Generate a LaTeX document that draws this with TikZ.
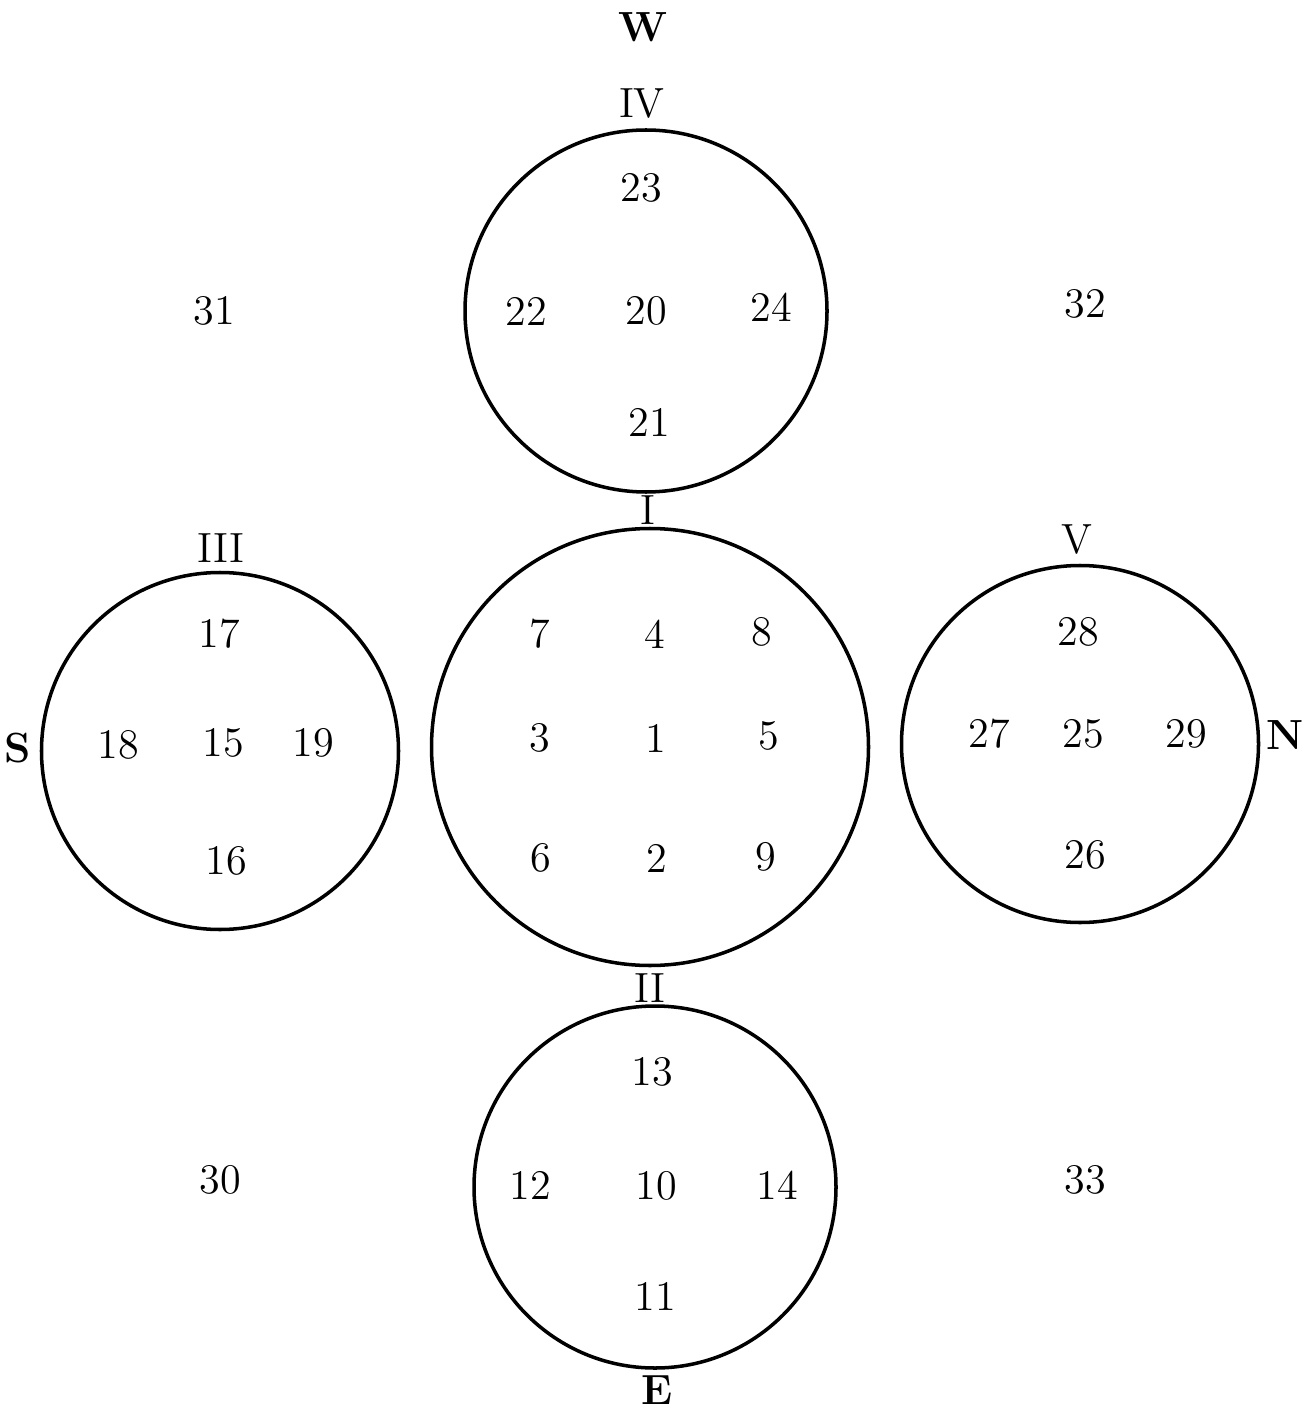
\documentclass[tikz,border=0pt]{standalone}
\usepackage{tikz}
\usetikzlibrary{positioning}

\begin{document}
\begin{tikzpicture}[
    ring/.style={draw, circle, line width=1pt, inner sep=0pt},
    num/.style={font=\large, inner sep=1pt},
    roman/.style={font=\large, inner sep=1pt},
    wind/.style={font=\large\bfseries, inner sep=1pt},
]
\useasboundingbox (0,0) rectangle (13.11,-14.12);

% The five circles
\node[ring, minimum size=3.62cm] (cw) at (6.46,-3.11) {};
\node[ring, minimum size=4.37cm] (cc) at (6.50,-7.47) {};
\node[ring, minimum size=3.57cm] (cs) at (2.20,-7.51) {};
\node[ring, minimum size=3.57cm] (cn) at (10.80,-7.44) {};
\node[ring, minimum size=3.62cm] (ce) at (6.55,-11.87) {};

% Circle labels
\node[roman] (lIV) at (6.42,-1.04) {IV};
\node[roman] (lI) at (6.48,-5.10) {I};
\node[roman] (lII) at (6.50,-9.88) {II};
\node[roman] (lIII) at (2.21,-5.48) {III};
\node[roman] (lV) at (10.77,-5.40) {V};

% Quarters
\node[wind] (west) at (6.43,-0.27) {W};
\node[wind] (south) at (0.18,-7.48) {S};
\node[wind] (north) at (12.85,-7.35) {N};
\node[wind] (east) at (6.57,-13.90) {E};

% Centre circle
\node[num] (n7) at (5.40,-6.34) {7};
\node[num] (n4) at (6.55,-6.34) {4};
\node[num] (n8) at (7.62,-6.32) {8};
\node[num] (n3) at (5.40,-7.38) {3};
\node[num] (n1) at (6.56,-7.38) {1};
\node[num] (n5) at (7.69,-7.36) {5};
\node[num] (n6) at (5.41,-8.58) {6};
\node[num] (n2) at (6.57,-8.58) {2};
\node[num] (n9) at (7.66,-8.57) {9};

% Lower circle
\node[num] (n13) at (6.52,-10.72) {13};
\node[num] (n12) at (5.30,-11.85) {12};
\node[num] (n10) at (6.56,-11.86) {10};
\node[num] (n14) at (7.77,-11.85) {14};
\node[num] (n11) at (6.55,-12.96) {11};

% Left circle
\node[num] (n17) at (2.19,-6.34) {17};
\node[num] (n18) at (1.18,-7.45) {18};
\node[num] (n15) at (2.23,-7.43) {15};
\node[num] (n19) at (3.13,-7.43) {19};
\node[num] (n16) at (2.26,-8.61) {16};

% Upper circle
\node[num] (n23) at (6.41,-1.88) {23};
\node[num] (n22) at (5.26,-3.11) {22};
\node[num] (n20) at (6.46,-3.11) {20};
\node[num] (n24) at (7.71,-3.07) {24};
\node[num] (n21) at (6.49,-4.22) {21};

% Right circle
\node[num] (n28) at (10.78,-6.32) {28};
\node[num] (n27) at (9.89,-7.34) {27};
\node[num] (n25) at (10.83,-7.34) {25};
\node[num] (n29) at (11.86,-7.34) {29};
\node[num] (n26) at (10.85,-8.55) {26};

% Corner fields
\node[num] (n31) at (2.14,-3.11) {31};
\node[num] (n32) at (10.85,-3.04) {32};
\node[num] (n30) at (2.20,-11.80) {30};
\node[num] (n33) at (10.85,-11.80) {33};
\end{tikzpicture}
\end{document}
